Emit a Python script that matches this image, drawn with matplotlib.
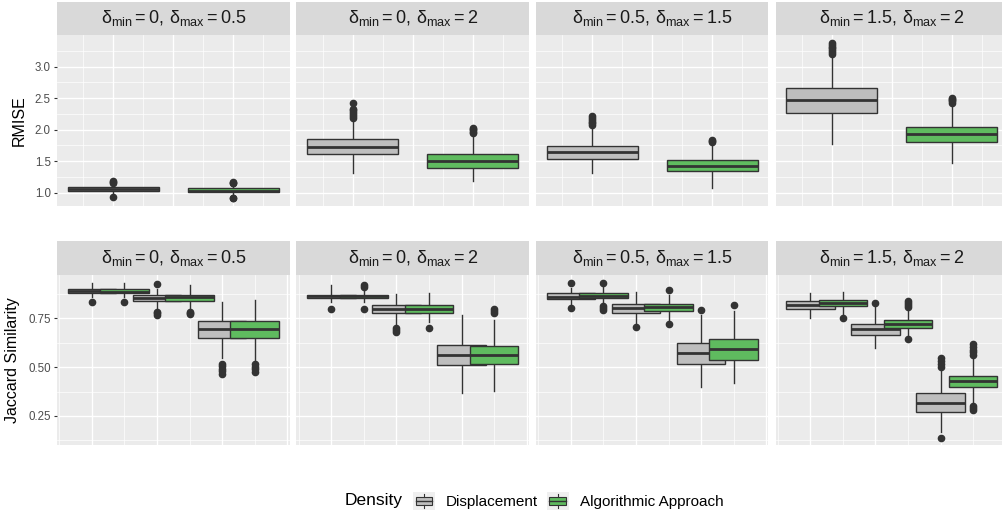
import numpy as np
import matplotlib.pyplot as plt
from matplotlib.patches import Rectangle, Patch
from matplotlib.lines import Line2D
from matplotlib.legend_handler import HandlerBase

plt.rcParams['font.family'] = ['Liberation Sans', 'DejaVu Sans']
plt.rcParams['mathtext.fontset'] = 'custom'
plt.rcParams['mathtext.rm'] = 'Liberation Sans'
plt.rcParams['mathtext.it'] = 'Liberation Sans:italic'
plt.rcParams['mathtext.default'] = 'regular'

# facet labels
panel_labels = [r'$δ_{min} = 0,\,δ_{max} = 0.5$',
                r'$δ_{min} = 0,\,δ_{max} = 2$',
                r'$δ_{min} = 0.5,\,δ_{max} = 1.5$',
                r'$δ_{min} = 1.5,\,δ_{max} = 2$']
methods = ['Displacement', 'Algorithmic Approach']
colors = ['#BEBEBE', '#5FBB5F']

# RMISE boxes (one per panel)  -- Displacement
rm_disp_q1 = [1.027, 1.614, 1.54, 2.27]
rm_disp_med = [1.063, 1.73, 1.65, 2.47]
rm_disp_q3 = [1.095, 1.848, 1.746, 2.657]
rm_disp_lo = [0.97, 1.32, 1.32, 1.78]
rm_disp_hi = [1.14, 2.16, 2.04, 3.17]
rm_disp_out = [[0.927, 1.16, 1.175, 1.19],
               [2.19, 2.22, 2.25, 2.28, 2.31, 2.33, 2.42],
               [2.07, 2.10, 2.13, 2.16, 2.19, 2.22],
               [3.20, 3.23, 3.26, 3.29, 3.32, 3.35, 3.38]]
# RMISE -- Algorithmic Approach
rm_alg_q1 = [1.016, 1.40, 1.345, 1.80]
rm_alg_med = [1.03, 1.503, 1.43, 1.93]
rm_alg_q3 = [1.07, 1.614, 1.52, 2.04]
rm_alg_lo = [0.96, 1.186, 1.08, 1.467]
rm_alg_hi = [1.13, 1.93, 1.78, 2.41]
rm_alg_out = [[0.91, 0.92, 1.15, 1.16, 1.175],
              [1.95, 1.97, 1.99, 2.01, 2.03],
              [1.80, 1.82, 1.84],
              [2.43, 2.45, 2.47, 2.49, 2.51]]

# Jaccard boxes (3 groups per panel) -- Displacement
jc_disp_q1 = [[0.878, 0.839, 0.650], [0.852, 0.777, 0.51], [0.848, 0.779, 0.515], [0.798, 0.663, 0.27]]
jc_disp_med = [[0.890, 0.853, 0.693], [0.862, 0.798, 0.562], [0.861, 0.801, 0.573], [0.818, 0.695, 0.317]]
jc_disp_q3 = [[0.900, 0.870, 0.736], [0.872, 0.818, 0.613], [0.881, 0.823, 0.625], [0.839, 0.719, 0.365]]
jc_disp_lo = [[0.86, 0.80, 0.545], [0.835, 0.72, 0.367], [0.82, 0.72, 0.399], [0.753, 0.596, 0.168]]
jc_disp_hi = [[0.933, 0.90, 0.835], [0.92, 0.875, 0.767], [0.904, 0.887, 0.767], [0.881, 0.81, 0.493]]
jc_disp_out = [[[0.835], [0.925, 0.784, 0.775, 0.767], [0.515, 0.505, 0.49, 0.478, 0.467]],
               [[0.80], [0.70, 0.69, 0.68], []],
               [[0.93, 0.801], [0.704], [0.793]],
               [[], [0.83], [0.50, 0.515, 0.53, 0.545, 0.139]]]
# Jaccard -- Algorithmic Approach
jc_alg_q1 = [[0.878, 0.84, 0.650], [0.852, 0.777, 0.515], [0.853, 0.787, 0.536], [0.812, 0.702, 0.397]]
jc_alg_med = [[0.885, 0.861, 0.693], [0.862, 0.80, 0.56], [0.866, 0.806, 0.591], [0.827, 0.721, 0.428]]
jc_alg_q3 = [[0.900, 0.870, 0.736], [0.870, 0.818, 0.61], [0.882, 0.823, 0.642], [0.844, 0.741, 0.457]]
jc_alg_lo = [[0.86, 0.80, 0.536], [0.835, 0.73, 0.376], [0.83, 0.74, 0.421], [0.77, 0.66, 0.315]]
jc_alg_hi = [[0.933, 0.921, 0.844], [0.895, 0.88, 0.74], [0.91, 0.87, 0.79], [0.887, 0.79, 0.55]]
jc_alg_out = [[[0.835], [0.784, 0.775, 0.77], [0.515, 0.50, 0.49, 0.475]],
              [[0.92, 0.91, 0.80], [0.70], [0.777, 0.79, 0.80]],
              [[0.93, 0.815, 0.805, 0.795], [0.895, 0.72], [0.818]],
              [[0.753], [0.81, 0.82, 0.83, 0.84, 0.644], [0.56, 0.575, 0.59, 0.605, 0.616, 0.30, 0.29, 0.28]]]

# y axis ticks
rm_yticks = [1.0, 1.5, 2.0, 2.5, 3.0]
jc_yticks = [0.25, 0.50, 0.75]

W, H = 1003, 515
fig = plt.figure(figsize=(W / 100, H / 100), dpi=100)

lefts = [57, 296.5, 536, 775.5]
pw = 232.5


def px_axes(x, ytop, w, h):
    return fig.add_axes([x / W, 1 - (ytop + h) / H, w / W, h / H])


zc = [2]


def draw_box(ax, pos, width, q1, med, q3, lo, hi, fl, color):
    z = zc[0]
    zc[0] += 1
    stats = [dict(q1=q1, med=med, q3=q3, whislo=lo, whishi=hi, fliers=fl)]
    ax.bxp(stats, positions=[pos], widths=width, patch_artist=True, showcaps=False,
           boxprops=dict(facecolor=color, edgecolor='#333333', linewidth=1.0, zorder=z),
           medianprops=dict(color='#333333', linewidth=2.0, solid_capstyle='butt', zorder=z + 0.2),
           whiskerprops=dict(color='#333333', linewidth=1.0, zorder=z - 0.1),
           flierprops=dict(marker='o', markerfacecolor='#333333', markeredgecolor='#333333',
                           markersize=4.5, zorder=z + 0.3),
           manage_ticks=False)


def style_panel(ax, first, yticks, yminor, xmaj, xmin):
    ax.set_facecolor('#EBEBEB')
    for s in ax.spines.values():
        s.set_visible(False)
    ax.set_xticks(xmaj)
    ax.set_xticks(xmin, minor=True)
    ax.set_yticks(yticks)
    ax.set_yticks(yminor, minor=True)
    ax.grid(which='major', color='white', linewidth=1.0, zorder=0.5)
    ax.grid(which='minor', color='white', linewidth=0.5, zorder=0.5)
    ax.set_axisbelow(True)
    ax.tick_params(axis='x', which='both', length=0, labelbottom=False)
    ax.tick_params(axis='y', which='minor', length=0)
    if first:
        ax.tick_params(axis='y', which='major', length=2.5, width=0.8, color='#333333',
                       labelcolor='#4D4D4D', labelsize=8.3, pad=2)
        ax.set_yticklabels(['%.1f' % v if len(yticks) == 5 else '%.2f' % v for v in yticks])
    else:
        ax.tick_params(axis='y', which='major', length=0, labelleft=False)


def strip(x, ytop, h, label):
    s = px_axes(x, ytop, pw, h)
    s.set_facecolor('#D9D9D9')
    s.set_xticks([])
    s.set_yticks([])
    for sp in s.spines.values():
        sp.set_visible(False)
    s.text(0.5, 0.5, label, ha='center', va='center', fontsize=13, color='#1A1A1A',
           transform=s.transAxes)


# top row: RMISE
for i in range(4):
    ax = px_axes(lefts[i], 35, pw, 170.7)
    draw_box(ax, -0.5, 0.76, rm_disp_q1[i], rm_disp_med[i], rm_disp_q3[i],
             rm_disp_lo[i], rm_disp_hi[i], rm_disp_out[i], colors[0])
    draw_box(ax, 0.5, 0.76, rm_alg_q1[i], rm_alg_med[i], rm_alg_q3[i],
             rm_alg_lo[i], rm_alg_hi[i], rm_alg_out[i], colors[1])
    ax.set_xlim(-0.968, 0.968)
    ax.set_ylim(0.794, 3.503)
    style_panel(ax, i == 0, rm_yticks, [1.25, 1.75, 2.25, 2.75, 3.25],
                [-0.5, 0, 0.5], [-0.75, -0.25, 0.25, 0.75])
    strip(lefts[i], 2, 33, panel_labels[i])
    if i == 0:
        ax.set_ylabel('RMISE', fontsize=11.5, color='black', labelpad=6)

# bottom row: Jaccard similarity
for i in range(4):
    ax = px_axes(lefts[i], 275, pw, 170)
    for g in range(3):
        draw_box(ax, g + 1 - 0.25, 0.75, jc_disp_q1[i][g], jc_disp_med[i][g], jc_disp_q3[i][g],
                 jc_disp_lo[i][g], jc_disp_hi[i][g], jc_disp_out[i][g], colors[0])
        draw_box(ax, g + 1 + 0.25, 0.75, jc_alg_q1[i][g], jc_alg_med[i][g], jc_alg_q3[i][g],
                 jc_alg_lo[i][g], jc_alg_hi[i][g], jc_alg_out[i][g], colors[1])
    ax.set_xlim(0.2125, 3.7875)
    ax.set_ylim(0.101, 0.972)
    style_panel(ax, i == 0, jc_yticks, [0.125, 0.375, 0.625, 0.875],
                [0.75, 1.75, 2.75, 3.75], [0.25, 1.25, 2.25, 3.25])
    strip(lefts[i], 241.5, 33.5, panel_labels[i])
    if i == 0:
        ax.set_ylabel('Jaccard Similarity', fontsize=11.5, color='black', labelpad=6)


class BoxKey(HandlerBase):
    def create_artists(self, legend, orig_handle, xd, yd, w, h, fontsize, trans):
        x0, y0 = -xd, -yd
        bg = Rectangle((x0, y0), w, h, facecolor='#EFEFEF', edgecolor='none', transform=trans)
        box = Rectangle((x0 + 0.12 * w, y0 + 0.27 * h), 0.76 * w, 0.46 * h,
                        facecolor=orig_handle.get_facecolor(), edgecolor='#333333',
                        linewidth=0.8, transform=trans)
        med = Line2D([x0 + 0.12 * w, x0 + 0.88 * w], [y0 + 0.5 * h] * 2, color='#333333',
                     linewidth=1.0, transform=trans)
        wu = Line2D([x0 + 0.5 * w] * 2, [y0 + 0.73 * h, y0 + 0.9 * h], color='#333333',
                    linewidth=0.8, transform=trans)
        wl = Line2D([x0 + 0.5 * w] * 2, [y0 + 0.1 * h, y0 + 0.27 * h], color='#333333',
                    linewidth=0.8, transform=trans)
        return [bg, box, med, wu, wl]


handles = [Patch(facecolor=c) for c in colors]
fig.legend(handles, methods, handler_map={Patch: BoxKey()}, loc='center left',
           bbox_to_anchor=(413 / W, 1 - 501 / H), ncol=2, frameon=False, fontsize=11,
           borderpad=0, borderaxespad=0, handlelength=1.45, handleheight=1.45,
           handletextpad=0.7, columnspacing=0.57)
fig.text(345 / W, 1 - 501 / H, 'Density', fontsize=12.5, ha='left', va='center', color='black')

fig.savefig('out.png', dpi=100)
